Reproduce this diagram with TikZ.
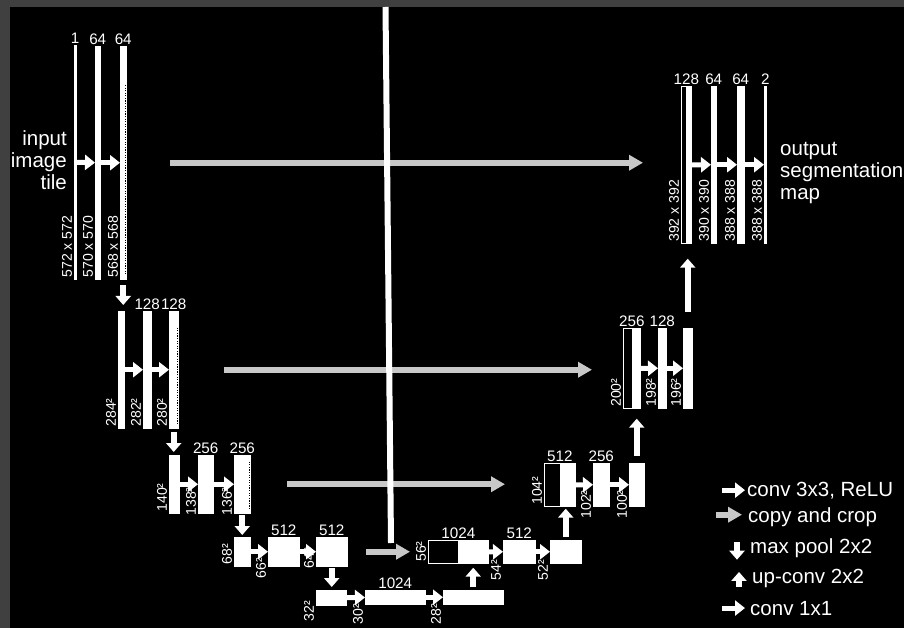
\documentclass[tikz,border=0pt]{standalone}
\usepackage{fontspec}
\setmainfont{Liberation Sans}
\usetikzlibrary{arrows.meta}
\definecolor{unetFrame}{RGB}{64,64,64}
\definecolor{unetCopy}{RGB}{200,200,200}

\begin{document}
\begin{tikzpicture}[x=0.03cm,y=-0.03cm,
    bar/.style 2 args={draw=white,fill=white,inner sep=0pt,anchor=north west,minimum width=#1*0.03cm,minimum height=#2*0.03cm},
    cat/.style={fill=black,line width=0.6pt},
    ch/.style={font=\fontsize{13}{15}\selectfont,text=white,inner sep=1.2pt},
    dim/.style={font=\fontsize{12}{14}\selectfont,text=white,inner sep=1.5pt,rotate=90,anchor=south west},
    big/.style={font=\fontsize{17.5}{19}\selectfont,text=white,inner sep=0pt},
    conv/.style={white,line width=0.15cm,-{Triangle[length=0.3cm,width=0.45cm]}},
    copy/.style={draw=unetCopy,line width=0.17cm,-{Triangle[length=0.42cm,width=0.45cm]}},
    pool/.style={white,line width=0.17cm,-{Triangle[length=0.27cm,width=0.45cm]}},
    crop/.style={black,line width=0.6pt,dash pattern=on 1pt off 1.2pt}
  ]
  \useasboundingbox (0,0) rectangle (904,628);
  \fill[unetFrame] (0,0) rectangle (904,628);
  \fill[black] (10,7) rectangle (904,628);

  % contracting path
  \node[bar={2}{234},label={[ch]above:1},label={[dim]south west:572 x 572}] (e1a) at (74,45) {};
  \node[bar={5}{233},label={[ch]above:64},label={[dim]south west:570 x 570}] (e1b) at (95,46) {};
  \node[bar={6}{233},label={[ch]above:64},label={[dim]south west:568 x 568}] (e1c) at (120,46) {};

  \node[bar={6}{117},label={[dim]south west:284²}] (e2a) at (118,311) {};
  \node[bar={8}{117},label={[ch]above:128},label={[dim]south west:282²}] (e2b) at (143,311) {};
  \node[bar={9}{117},label={[ch]above:128},label={[dim]south west:280²}] (e2c) at (169,311) {};

  \node[bar={10}{58},label={[dim]south west:140²}] (e3a) at (169,455) {};
  \node[bar={15}{58},label={[ch]above:256},label={[dim,xshift=-0.12cm]south west:138²}] (e3b) at (198,455) {};
  \node[bar={16}{58},label={[ch]above:256},label={[dim,xshift=-0.12cm]south west:136²}] (e3c) at (234,455) {};

  \node[bar={16}{29},label={[dim]south west:68²}] (e4a) at (234,537) {};
  \node[bar={31}{29},label={[ch]above:512},label={[dim,xshift=-0.42cm]south west:66²}] (e4b) at (268,537) {};
  \node[bar={31}{29},label={[ch]above:512},label={[dim,xshift=-0.12cm]south west:64²}] (e4c) at (316,537) {};

  \node[bar={30}{15},label={[dim,xshift=-0.54cm]south west:32²}] (e5a) at (316,590) {};
  \node[bar={60}{14},label={[ch]above:1024},label={[dim,xshift=-0.66cm]south west:30²}] (e5b) at (365,590) {};
  \node[bar={60}{14},label={[dim,xshift=-0.66cm]south west:28²}] (e5c) at (443,590) {};

  % expansive path
  \node[bar={60}{23},cat,label={[ch]above:1024},label={[dim]south west:56²}] (d4a) at (428,540) {};
  \node[bar={32}{23},label={[ch]above:512},label={[dim,xshift=-0.57cm]south west:54²}] (d4b) at (503,540) {};
  \node[bar={31}{23},label={[dim,xshift=-0.57cm]south west:52²}] (d4c) at (550,540) {};

  \node[bar={31}{43},cat,label={[ch]above:512},label={[dim]south west:104²}] (d3a) at (544,463) {};
  \node[bar={16}{43},label={[ch]above:256},label={[dim,xshift=-0.42cm]south west:102²}] (d3b) at (593,463) {};
  \node[bar={15}{43},label={[dim,xshift=-0.42cm]south west:100²}] (d3c) at (629,463) {};

  \node[bar={17}{80},cat,label={[ch]above:256},label={[dim]south west:200²}] (d2a) at (623,328) {};
  \node[bar={8}{80},label={[ch]above:128},label={[dim]south west:198²}] (d2b) at (658,328) {};
  \node[bar={9}{80},label={[dim]south west:196²}] (d2c) at (683,328) {};

  \node[bar={10}{157},cat,label={[ch]above:128},label={[dim]south west:392 x 392}] (d1a) at (681,86) {};
  \node[bar={5}{157},label={[ch]above:64},label={[dim]south west:390 x 390}] (d1b) at (711,86) {};
  \node[bar={7}{157},label={[ch]above:64},label={[dim]south west:388 x 388}] (d1c) at (737,86) {};
  \node[bar={2}{157},label={[ch]above:2},label={[dim]south west:388 x 388}] (d1d) at (764,86) {};

  \foreach \n in {d1a,d2a,d3a,d4a}
    \fill[white] (\n.north) rectangle (\n.south east);
  \foreach \n/\t in {e1c/1.17,e2c/0.5,e3c/0.2}
    \draw[crop] ([xshift=-0.6pt,yshift=-\t cm]\n.north east) -- ([xshift=-0.6pt,yshift=0.15cm]\n.south east);

  \node[big,align=right,anchor=east] (inp) at (67,160) {input\\image\\tile};
  \node[big,align=left,anchor=west] (outp) at (780,173) {output\\segmentation\\map};

  \foreach \a/\b in {e1a/e1b,e1b/e1c,e2a/e2b,e2b/e2c,e3a/e3b,e3b/e3c,e4a/e4b,e4b/e4c,e5a/e5b,e5b/e5c,
                     d4a/d4b,d4b/d4c,d3a/d3b,d3b/d3c,d2a/d2b,d2b/d2c,d1a/d1b,d1b/d1c,d1c/d1d}
    \draw[conv] (\a) -- (\b);

  \draw[copy,shorten <=1.32cm,shorten >=1.14cm] (e1c.east) -- (e1c.east -| d1a.west);
  \draw[copy,shorten <=1.38cm,shorten >=0.93cm] (e2c.east) -- (e2c.east -| d2a.west);
  \draw[copy,shorten <=1.11cm,shorten >=1.17cm] (e3c.east) -- (e3c.east -| d3a.west);
  \draw[copy,shorten <=0.57cm,shorten >=0.54cm] (e4c.east) -- (e4c.east -| d4a.west);

  \draw[pool,shorten <=0.18cm,shorten >=0.18cm] (e1c.south) -- (e1c.south |- e2a.north);
  \draw[pool,shorten <=0.12cm,shorten >=0.09cm] (e2c.south) -- (e2c.south |- e3a.north);
  \draw[pool,shorten <=0.06cm,shorten >=0.06cm] (e3c.south) -- (e3c.south |- e4a.north);
  \draw[pool,shorten <=0.06cm,shorten >=0.09cm] (e4c.south) -- (e4c.south |- e5a.north);

  \draw[pool,shorten <=0.09cm,shorten >=0.12cm] (e5c.north) -- (e5c.north |- d4a.south);
  \draw[pool,shorten <=0.09cm,shorten >=0.06cm] (d4c.north) -- (d4c.north |- d3a.south);
  \draw[pool,shorten <=0.21cm,shorten >=0.30cm] (d3c.north) -- (d3c.north |- d2a.south);
  \draw[pool,shorten <=0.48cm,shorten >=0.45cm] (d2c.north) -- (d2c.north |- d1a.south);

  \draw[white,line width=0.18cm] (385.5,7) -- (391,543);

  % legend
  \node[big,anchor=base west] (lg1) at (747,496) {conv 3x3, ReLU};
  \node[big,anchor=base west] (lg2) at (748,522) {copy and crop};
  \node[big,anchor=base west] (lg3) at (750,553) {max pool 2x2};
  \node[big,anchor=base west] (lg4) at (752,583) {up-conv 2x2};
  \node[big,anchor=base west] (lg5) at (750,615) {conv 1x1};
  \draw[conv] ([xshift=-0.75cm]lg1.west) -- ([xshift=-0.06cm]lg1.west);
  \draw[copy] ([xshift=-0.96cm,yshift=0.06cm]lg2.west) -- ([xshift=-0.18cm,yshift=0.06cm]lg2.west);
  \draw[pool] ([xshift=-0.39cm,yshift=0.18cm]lg3.west) -- ([xshift=-0.39cm,yshift=-0.36cm]lg3.west);
  \draw[pool] ([xshift=-0.39cm,yshift=-0.27cm]lg4.west) -- ([xshift=-0.39cm,yshift=0.18cm]lg4.west);
  \draw[conv] ([xshift=-0.84cm]lg5.west) -- ([xshift=-0.15cm]lg5.west);
\end{tikzpicture}
\end{document}
